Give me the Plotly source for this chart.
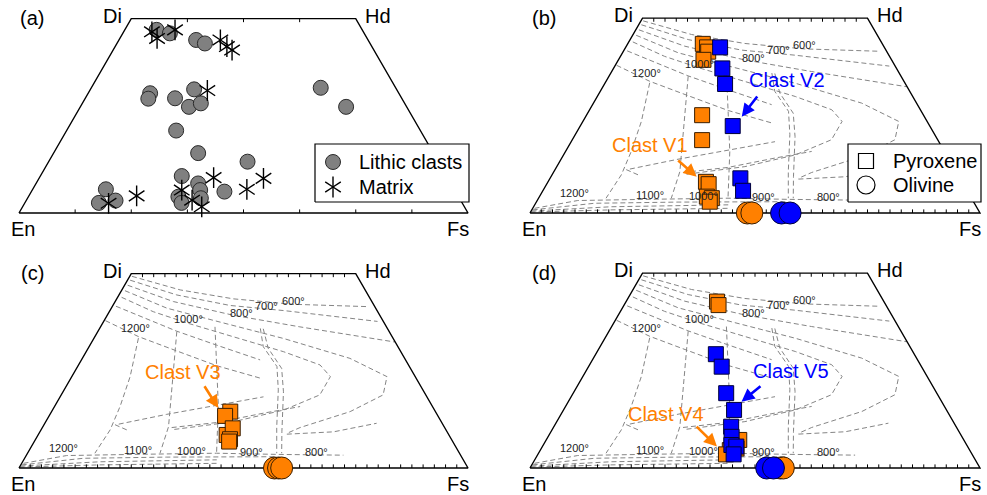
import math
import plotly.graph_objects as go

W, H = 987, 495
FONT = "Liberation Sans, Arial, Helvetica, sans-serif"
ORANGE = "#ff8000"
BLUE = "#0000ff"
DASH_GRAY = "#858585"
S3 = math.sqrt(3) / 2.0

# ---------------- compositions (Wo, Fs in mol %) ----------------
# (a) lithic clasts and matrix pyroxenes
LITHIC_WO = [47.1, 46.2, 44.5, 43.6, 30.8, 29.4, 29.5, 31.8, 27.3, 28.2, 21.2, 15.4, 13.2,
             9.5, 7.6, 5.9, 4.2, 2.6, 3.8, 5.5, 6.1, 2.6, 3.2, 32.2, 27.3]
LITHIC_FS = [7.1, 10.5, 17.2, 19.6, 13.8, 14.1, 20.0, 23.1, 24.2, 26.4, 24.4, 32.2, 44.3,
             31.5, 36.1, 37.4, 33.4, 34.9, 38.6, 43.0, 16.3, 16.5, 19.9, 51.1, 59.2]
MATRIX_WO = [46.6, 44.9, 47.1, 44.5, 42.8, 41.9, 31.5, 9.1, 8.9, 6.1, 4.4, 5.9, 1.6, 3.3, 2.5]
MATRIX_FS = [6.3, 8.3, 11.2, 22.6, 24.9, 26.5, 26.2, 38.8, 50.0, 47.7, 24.0, 33.3, 39.9, 36.9, 18.7]

# (b) clasts V1 (orange) and V2 (blue)
V1_PX_WO = [43.4, 42.5, 41.4, 39.3, 25.1, 18.7, 8.0, 7.4, 4.2, 3.8, 2.9]
V1_PX_FS = [16.7, 18.1, 18.9, 18.9, 25.7, 28.9, 35.1, 36.0, 37.2, 38.5, 38.5]
V2_PX_WO = [42.5, 37.1, 33.1, 22.3, 8.9, 5.7]
V2_PX_FS = [21.0, 24.2, 26.8, 33.9, 42.3, 44.5]
V1_OL_FA = [48.3, 49.3]
V2_OL_FA = [55.9, 57.8]

# (c) clast V3
V3_PX_WO = [14.5, 13.4, 8.5, 10.2, 7.4, 6.8]
V3_PX_FS = [39.8, 39.2, 42.0, 42.5, 43.3, 43.4]
V3_OL_FA = [56.9, 57.8, 58.5]

# (d) clasts V4 (orange) and V5 (blue)
V4_PX_WO = [42.7, 41.8, 7.2, 5.0, 4.6, 3.5]
V4_PX_FS = [20.2, 21.0, 42.9, 43.4, 42.1, 41.8]
V5_PX_WO = [29.2, 26.0, 19.2, 14.9, 10.6, 8.0, 5.9, 5.5, 3.5]
V5_PX_FS = [26.7, 29.6, 34.0, 37.9, 39.4, 40.8, 41.8, 43.1, 43.5]
V4_OL_FA = [55.6, 56.3]
V5_OL_FA = [52.6, 54.1]

# ---------------- isotherms (Wo, Fs), dashed ----------------
AUG_600 = [(49.3, 0.5), (45.8, 13.0), (43.5, 26.0), (42.1, 40.0), (41.5, 57.0)]
AUG_700 = [(48.3, 0.6), (44.5, 12.9), (41.8, 26.1), (40.5, 38.6), (37.7, 61.0)]
AUG_800 = [(47.0, 0.7), (42.8, 13.0), (39.3, 28.0), (36.3, 44.4), (32.4, 67.5)]
AUG_900 = [(45.6, 0.8), (41.1, 12.4), (37.5, 26.1), (33.3, 42.3), (28.2, 59.6), (23.5, 70.2),
           (18.8, 71.7), (14.5, 66.5), (10.4, 57.4), (8.9, 55.2)]
AUG_1000 = [(43.9, 0.9), (40.2, 9.8), (37.2, 19.1), (33.8, 30.8), (29.9, 44.0), (26.5, 53.8),
            (23.5, 57.6), (18.8, 57.6), (14.9, 51.5), (11.9, 41.8), (9.9, 29.5)]
AUG_1100 = [(41.6, 0.8), (38.3, 9.3), (35.2, 17.5), (31.6, 28.2), (27.8, 39.8)]
AUG_1200 = [(37.9, 0.3), (33.8, 9.7), (30.1, 20.1), (26.3, 30.9), (23.1, 42.2)]
TIE_1200 = [(33.4, 9.9), (23.5, 13.0), (15.8, 14.6), (9.8, 15.4), (3.8, 15.0)]
TIE_1100 = [(35.1, 17.6), (29.9, 19.8), (20.1, 24.0), (10.6, 28.0), (3.8, 29.5)]
TIE_1000 = [(36.3, 25.5), (26.1, 31.0), (15.8, 36.5), (3.8, 42.1)]
TIE_900A = [(35.9, 35.8), (31.2, 38.8), (26.1, 44.4), (20.1, 47.7), (10.6, 52.1), (3.8, 55.5)]
TIE_900B = [(35.8, 36.5), (30.8, 40.1), (25.6, 45.7), (19.6, 49.1), (9.3, 53.9), (3.8, 56.6)]
PIG_1200 = [(9.8, 19.1), (11.1, 15.9), (13.8, 26.0), (16.2, 35.9), (18.3, 45.3)]
PIG_1100 = [(10.4, 28.8), (11.7, 38.2), (14.1, 47.4), (15.8, 54.7)]
PIG_900 = [(8.7, 55.3), (9.3, 65.4), (11.5, 73.9)]
OPX_1 = [(1.2, 0.4), (3.2, 9.0), (3.5, 23.8), (3.8, 42.1), (3.5, 55.7), (3.3, 70.6)]
OPX_2 = [(0.8, 0.2), (2.5, 13.1), (2.8, 31.5), (2.9, 56.0)]
OPX_3 = [(0.5, 0.1), (1.6, 17.2), (2.1, 43.0)]
OPX_4 = [(0.25, 0.0), (0.8, 17.6), (1.2, 43.4)]
ISOTHERMS = [AUG_600, AUG_700, AUG_800, AUG_900, AUG_1000, AUG_1100, AUG_1200,
             TIE_1200, TIE_1100, TIE_1000, TIE_900A, TIE_900B,
             PIG_1200, PIG_1100, PIG_900, OPX_1, OPX_2, OPX_3, OPX_4]
ISO_TEXT = ["600°", "700°", "800°", "1000°", "1200°", "1200°", "1100°", "1000°", "900°", "800°"]
ISO_TEXT_WO = [43.0, 41.7, 39.8, 38.3, 35.9, 5.1, 4.6, 4.4, 4.0, 4.0]
ISO_TEXT_FS = [39.6, 34.3, 29.7, 18.6, 7.9, 7.3, 24.3, 36.3, 49.8, 64.3]

# quadrilateral corners (Wo, Fs)
CORNERS = [(0, 0), (0, 100), (50, 50), (50, 0), (0, 0)]

# ---------------- panel geometry (pixels) ----------------
PANELS = [
    dict(key="a", origin=(19, 213), scale=4.49, box=(0, 0, 490, 247), tick=12.5),
    dict(key="b", origin=(530, 213), scale=4.50, box=(490, 0, 987, 247), tick=2.5),
    dict(key="c", origin=(19, 468), scale=4.49, box=(0, 248, 490, 495), tick=2.5),
    dict(key="d", origin=(530, 468), scale=4.50, box=(490, 248, 987, 495), tick=2.5),
]


def proj(wo, fs):
    return fs + wo / 2.0, wo * S3


def axes_of(i):
    s = "" if i == 0 else str(i + 1)
    return "x" + s, "y" + s


def pix(p, px, py):
    ox, oy = p["origin"]
    return (px - ox) / p["scale"], (oy - py) / p["scale"]


fig = go.Figure()
layout = dict(width=W, height=H, margin=dict(l=0, r=0, t=0, b=0),
              plot_bgcolor="white", paper_bgcolor="white", showlegend=False,
              font=dict(family=FONT, color="black"))
annotations = []


def add(i, xs, ys, **kw):
    xa, ya = axes_of(i)
    fig.add_trace(go.Scatter(x=xs, y=ys, xaxis=xa, yaxis=ya, hoverinfo="skip",
                             cliponaxis=False, showlegend=False, **kw))


def add_path(i, pts, **line):
    xs, ys = [], []
    for wo, fs in pts:
        x, y = proj(wo, fs)
        xs.append(x)
        ys.append(y)
    add(i, xs, ys, mode="lines", line=line)


def add_points(i, wos, fss, **marker):
    xs, ys = zip(*[proj(w, f) for w, f in zip(wos, fss)])
    add(i, list(xs), list(ys), mode="markers", marker=marker)


def text(i, x, y, s, size=20, color="black", xanchor="center"):
    xa, ya = axes_of(i)
    annotations.append(dict(x=x, y=y, xref=xa, yref=ya, text=s, showarrow=False,
                            xanchor=xanchor, yanchor="middle",
                            font=dict(size=size, color=color, family=FONT)))


def arrow(i, tail, tip, color):
    xa, ya = axes_of(i)
    hx, hy = proj(*tip)
    tx, ty = proj(*tail)
    annotations.append(dict(x=hx, y=hy, ax=tx, ay=ty, xref=xa, yref=ya, axref=xa, ayref=ya,
                            text="", showarrow=True, arrowhead=2, arrowsize=1.0,
                            arrowwidth=2.6, arrowcolor=color, standoff=0))


def legend_box(i, p, l, t, r, b):
    x0, y0 = pix(p, l, b)
    x1, y1 = pix(p, r, t)
    add(i, [x0, x1, x1, x0, x0], [y0, y0, y1, y1, y0], mode="lines", fill="toself",
        fillcolor="white", line=dict(color="black", width=1.2))


for i, p in enumerate(PANELS):
    ox, oy = p["origin"]
    s = p["scale"]
    l, t, r, b = p["box"]
    xa, ya = axes_of(i)
    sfx = xa[1:]
    layout["xaxis" + sfx] = dict(domain=[l / W, r / W], range=[(l - ox) / s, (r - ox) / s],
                                 visible=False, fixedrange=True, anchor=ya)
    layout["yaxis" + sfx] = dict(domain=[1 - b / H, 1 - t / H], range=[(oy - b) / s, (oy - t) / s],
                                 visible=False, fixedrange=True, anchor=xa)

    # isotherm grid
    if p["key"] != "a":
        for iso in ISOTHERMS:
            add_path(i, iso, color=DASH_GRAY, width=1.0, dash="5px,3px")
        for lab, wo, fs in zip(ISO_TEXT, ISO_TEXT_WO, ISO_TEXT_FS):
            x, y = proj(wo, fs)
            text(i, x, y, lab, size=11, color="#222222")

    # outline and ticks
    add_path(i, CORNERS, color="black", width=1.4)
    step = p["tick"]
    tl = 0.8
    tx, ty = [], []
    n = int(round(100 / step))
    for k in range(1, n):
        x = k * step
        tx += [x, x, None]
        ty += [0, tl, None]
    for k in range(1, int(round(50 / step))):
        x, y = proj(50, k * step)
        tx += [x, x, None]
        ty += [y, y - tl, None]
    add(i, tx, ty, mode="lines", line=dict(color="black", width=1))

    # corner and panel labels
    dx, dy = proj(50, 0)
    hx, hy = proj(50, 50)
    text(i, dx - 1.6, dy + 0.6, "Di", xanchor="right")
    text(i, hx + 1.6, hy + 0.6, "Hd", xanchor="left")
    text(i, 0.8, -3.5, "En")
    text(i, 97.8, -3.5, "Fs")
    text(i, 3.0, 43.4, "(%s)" % p["key"])

# ---- (a) ----
add_points(0, LITHIC_WO, LITHIC_FS, symbol="circle", size=15, color="#808080",
           line=dict(color="#2a2a2a", width=1))
for sym in ("y-up-open", "y-down-open"):
    add_points(0, MATRIX_WO, MATRIX_FS, symbol=sym, size=13, color="black",
               line=dict(color="black", width=1.4))
pa = PANELS[0]
legend_box(0, pa, 315, 144, 469, 202)
cx, cy = pix(pa, 333, 162)
add(0, [cx], [cy], mode="markers", marker=dict(symbol="circle", size=15, color="#808080",
                                                 line=dict(color="#2a2a2a", width=1)))
mx, my = pix(pa, 333, 187)
for sym in ("y-up-open", "y-down-open"):
    add(0, [mx], [my], mode="markers", marker=dict(symbol=sym, size=13, color="black",
                                                     line=dict(color="black", width=1.4)))
text(0, *pix(pa, 357, 162), "Lithic clasts", xanchor="left")
text(0, *pix(pa, 357, 187), "Matrix", xanchor="left")

SQ_O = dict(symbol="square", size=15, color=ORANGE, line=dict(color="#3a1e00", width=1))
SQ_B = dict(symbol="square", size=15, color=BLUE, line=dict(color="#00003a", width=1))
OL_O = dict(symbol="circle", size=22, color=ORANGE, line=dict(color="#3a1e00", width=1))
OL_B = dict(symbol="circle", size=22, color=BLUE, line=dict(color="#00003a", width=1))

# ---- (b) ----
add_points(1, V1_PX_WO, V1_PX_FS, **SQ_O)
add_points(1, V2_PX_WO, V2_PX_FS, **SQ_B)
add_points(1, [0] * len(V1_OL_FA), V1_OL_FA, **OL_O)
add_points(1, [0] * len(V2_OL_FA), V2_OL_FA, **OL_B)
arrow(1, (30.3, 35.6), (24.7, 34.7), BLUE)
arrow(1, (13.8, 25.7), (9.3, 32.4), ORANGE)
text(1, *proj(34.1, 40.0), "Clast V2", color=BLUE)
text(1, *proj(17.5, 18.0), "Clast V1", color=ORANGE)
pb = PANELS[1]
legend_box(1, pb, 848, 144, 981, 202)
add(1, [pix(pb, 866, 161)[0]], [pix(pb, 866, 161)[1]], mode="markers",
    marker=dict(symbol="square", size=15, color="white", line=dict(color="black", width=1.2)))
add(1, [pix(pb, 866, 185)[0]], [pix(pb, 866, 185)[1]], mode="markers",
    marker=dict(symbol="circle", size=18, color="white", line=dict(color="black", width=1.2)))
text(1, *pix(pb, 891, 161), "Pyroxene", xanchor="left")
text(1, *pix(pb, 891, 185), "Olivine", xanchor="left")

# ---- (c) ----
add_points(2, V3_PX_WO, V3_PX_FS, **SQ_O)
add_points(2, [0] * len(V3_OL_FA), V3_OL_FA, **OL_O)
arrow(2, (21.4, 30.4), (15.4, 36.7), ORANGE)
text(2, *proj(24.8, 24.1), "Clast V3", color=ORANGE)

# ---- (d) ----
add_points(3, V4_PX_WO, V4_PX_FS, **SQ_O)
add_points(3, V5_PX_WO, V5_PX_FS, **SQ_B)
add_points(3, [0] * len(V4_OL_FA), V4_OL_FA, **OL_O)
add_points(3, [0] * len(V5_OL_FA), V5_OL_FA, **OL_B)
arrow(3, (21.3, 40.9), (17.0, 38.5), BLUE)
arrow(3, (11.0, 31.2), (5.5, 38.8), ORANGE)
text(3, *proj(24.9, 45.6), "Clast V5", color=BLUE)
text(3, *proj(13.8, 23.3), "Clast V4", color=ORANGE)

layout["annotations"] = annotations
fig.update_layout(**layout)
fig.write_html("out.html")
